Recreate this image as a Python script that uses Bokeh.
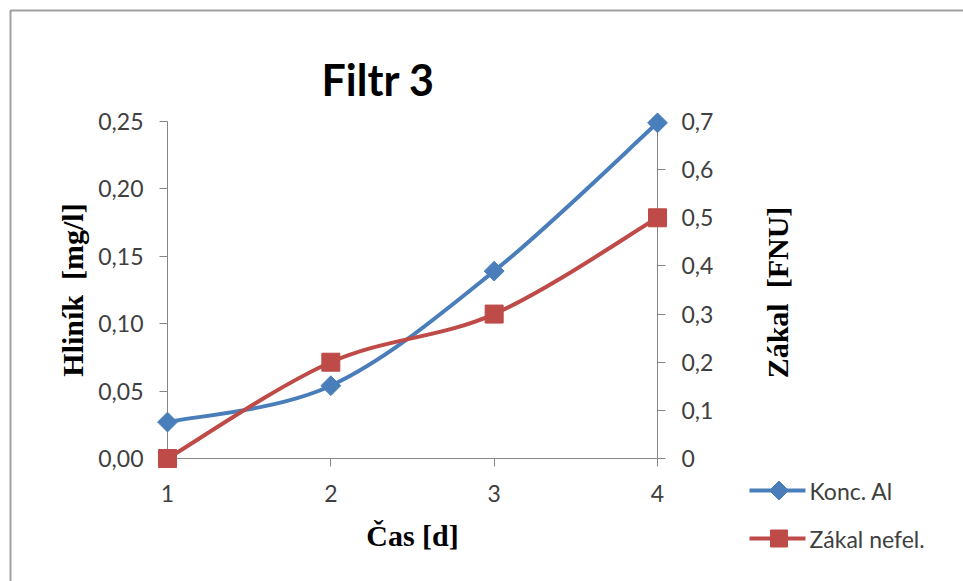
import math

from bokeh.core.properties import value
from bokeh.embed import file_html
from bokeh.models import ColumnDataSource, FixedTicker, LinearAxis, Range1d
from bokeh.plotting import figure
from bokeh.resources import INLINE

# ---- data -------------------------------------------------------------
days = [1, 2, 3, 4]
konc_al = [0.027, 0.054, 0.139, 0.249]      # Hliník [mg/l]
zakal_nefel = [0.0, 0.2, 0.3, 0.5]          # Zákal [FNU]

x_ticks = [1, 2, 3, 4]
x_tick_labels = ["1", "2", "3", "4"]
left_ticks = [0.0, 0.05, 0.10, 0.15, 0.20, 0.25]
left_tick_labels = ["0,00", "0,05", "0,10", "0,15", "0,20", "0,25"]
right_ticks = [0.0, 0.1, 0.2, 0.3, 0.4, 0.5, 0.6, 0.7]
right_tick_labels = ["0", "0,1", "0,2", "0,3", "0,4", "0,5", "0,6", "0,7"]

series_names = ["Konc. Al", "Zákal nefel."]

# ---- layout constants (pixels) -----------------------------------------
W, H = 963, 581
AX_L, AX_R, AX_T, AX_B = 167, 657, 121, 458   # plot frame edges

BLUE = "#4a7ebb"
RED = "#be4b48"
AXIS_GREY = "#868686"
TICK_TEXT = "#404040"
BORDER_GREY = "#a0a0a0"

X_LO, X_HI = x_ticks[0], x_ticks[-1]
YL_LO, YL_HI = left_ticks[0], left_ticks[-1]
YR_LO, YR_HI = right_ticks[0], right_ticks[-1]


def x_at(px):
    return X_LO + (px - AX_L) * (X_HI - X_LO) / (AX_R - AX_L)


def yl_at(py):
    return YL_LO + (AX_B - py) * (YL_HI - YL_LO) / (AX_B - AX_T)


def smooth_segments(xs, ys):
    """Cubic Bezier pieces through the points (1/6 tangent rule)."""
    n = len(xs)
    seg = {k: [] for k in ("x0", "y0", "x1", "y1", "cx0", "cy0", "cx1", "cy1")}
    for i in range(n - 1):
        xp, yp = (xs[i - 1], ys[i - 1]) if i > 0 else (xs[i], ys[i])
        xn, yn = (xs[i + 2], ys[i + 2]) if i + 2 < n else (xs[i + 1], ys[i + 1])
        seg["x0"].append(xs[i]); seg["y0"].append(ys[i])
        seg["x1"].append(xs[i + 1]); seg["y1"].append(ys[i + 1])
        seg["cx0"].append(xs[i] + (xs[i + 1] - xp) / 6)
        seg["cy0"].append(ys[i] + (ys[i + 1] - yp) / 6)
        seg["cx1"].append(xs[i + 1] - (xn - xs[i]) / 6)
        seg["cy1"].append(ys[i + 1] - (yn - ys[i]) / 6)
    return ColumnDataSource(seg)


p = figure(
    width=W, height=H,
    x_range=Range1d(X_LO, X_HI),
    y_range=Range1d(YL_LO, YL_HI),
    x_axis_type=None, y_axis_type=None,
    min_border_left=AX_L, min_border_right=W - AX_R,
    min_border_top=AX_T, min_border_bottom=H - AX_B,
    output_backend="svg", toolbar_location=None,
)
p.extra_y_ranges = {"zakal": Range1d(YR_LO, YR_HI)}
p.outline_line_color = None
p.background_fill_color = "white"
p.border_fill_color = "white"

# title
p.title.text = "Filtr 3"
p.title.text_font = "Lato"
p.title.text_font_style = "bold"
p.title.text_font_size = "43px"
p.title.text_color = "black"
p.title.align = "left"
p.title.offset = 321 - AX_L
p.title.standoff = 34


def style_axis(ax):
    ax.axis_line_color = AXIS_GREY
    ax.major_tick_line_color = AXIS_GREY
    ax.minor_tick_line_color = None
    ax.major_tick_in = 0
    ax.major_tick_out = 8
    ax.major_label_text_font = "Lato"
    ax.major_label_text_font_size = "23px"
    ax.major_label_text_color = TICK_TEXT
    ax.major_label_standoff = 16
    ax.axis_label_text_font = "Liberation Serif"
    ax.axis_label_text_font_style = "bold"
    ax.axis_label_text_font_size = "30px"
    ax.axis_label_text_color = "black"


x_axis = LinearAxis(
    ticker=FixedTicker(ticks=x_ticks),
    major_label_overrides=dict(zip(x_ticks, x_tick_labels)),
    axis_label="Čas [d]",
)
style_axis(x_axis)
x_axis.major_label_standoff = 18
x_axis.axis_label_standoff = 14
p.add_layout(x_axis, "below")

left_axis = LinearAxis(
    ticker=FixedTicker(ticks=left_ticks),
    major_label_overrides=dict(zip(left_ticks, left_tick_labels)),
    axis_label="Hliník \u00a0[mg/l]",
)
style_axis(left_axis)
left_axis.axis_label_standoff = 6
p.add_layout(left_axis, "left")

right_axis = LinearAxis(
    y_range_name="zakal",
    ticker=FixedTicker(ticks=right_ticks),
    major_label_overrides=dict(zip(right_ticks, right_tick_labels)),
)
style_axis(right_axis)
p.add_layout(right_axis, "right")

# right axis title, reading bottom to top like the left one
p.text(
    x=[x_at(777)], y=[yl_at(292)], text=["Zákal \u00a0[FNU]"],
    angle=math.pi / 2, text_align="center", text_baseline="middle",
    text_font=value("Liberation Serif"), text_font_style="bold",
    text_font_size="30px", text_color="black", level="overlay",
)

# ---- series -------------------------------------------------------------
p.bezier(
    "x0", "y0", "x1", "y1", "cx0", "cy0", "cx1", "cy1",
    source=smooth_segments(days, konc_al),
    line_color=BLUE, line_width=4, line_cap="round",
)
p.bezier(
    "x0", "y0", "x1", "y1", "cx0", "cy0", "cx1", "cy1",
    source=smooth_segments(days, zakal_nefel), y_range_name="zakal",
    line_color=RED, line_width=4, line_cap="round",
)
# markers sit on the axes, so they are drawn above the frame clip
p.scatter(days, konc_al, marker="square", angle=math.pi / 4,
          size=14, fill_color=BLUE, line_color=BLUE, level="overlay")
p.scatter(days, zakal_nefel, marker="square", size=18,
          fill_color=RED, line_color=RED, y_range_name="zakal",
          level="overlay")


# ---- legend (to the lower right of the plot) ---------------------------
def marker_shape(cx, cy, kind, half):
    """Outline of a legend marker centred at a pixel position."""
    if kind == "diamond":
        pts = [(cx, cy - half), (cx + half, cy), (cx, cy + half), (cx - half, cy)]
    else:
        pts = [(cx - half, cy - half), (cx + half, cy - half),
               (cx + half, cy + half), (cx - half, cy + half)]
    return [x_at(a) for a, _ in pts], [yl_at(b) for _, b in pts]


legend_rows = [
    (series_names[0], BLUE, "diamond", 9.5, 490),
    (series_names[1], RED, "square", 8.5, 538),
]
for name, color, kind, half, row_py in legend_rows:
    ly = yl_at(row_py)
    p.line(x=[x_at(749), x_at(805)], y=[ly, ly], line_color=color,
           line_width=4, level="overlay")
    mx, my = marker_shape(778.5, row_py, kind, half)
    p.patch(x=mx, y=my, fill_color=color, line_color=color, level="overlay")
    p.text(x=[x_at(809)], y=[ly], text=[name], text_align="left",
           text_baseline="middle", text_font=value("Lato"),
           text_font_size="23px", text_color=TICK_TEXT, level="overlay")

# chart-area border (left and top edges show inside the window)
p.line(
    x=[x_at(10), x_at(10), x_at(W + 40)],
    y=[yl_at(H + 40), yl_at(10), yl_at(10)],
    line_color=BORDER_GREY, line_width=2, level="overlay",
)

open("out.html", "w").write(file_html(p, INLINE))
